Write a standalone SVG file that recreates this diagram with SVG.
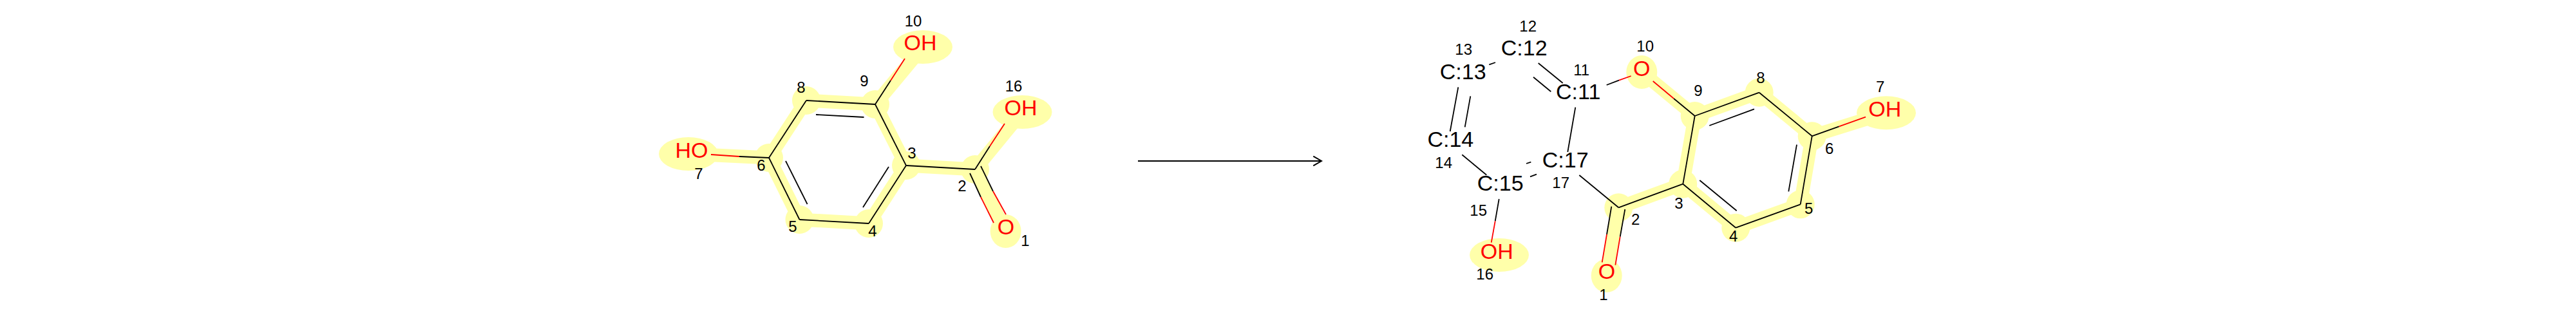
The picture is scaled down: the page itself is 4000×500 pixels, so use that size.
<svg xmlns="http://www.w3.org/2000/svg" width="4000" height="500" viewBox="0 0 4000 500">
<style>
text{font-family:"Liberation Sans",Arial,sans-serif;text-anchor:middle}
.a{font-size:34px;fill:#000}
.r{font-size:34px;fill:#f00}
.i{font-size:24px;fill:#000}
.hl{fill:#ffffaa;stroke:none}
#bond-highlights line{stroke:#ffffaa;stroke-width:21;fill:none}
#connectors line{stroke:#000;stroke-width:1.8;fill:none}
#connectors line.o{stroke:#f00}
#reaction-arrow path{stroke:#000;stroke-width:2;fill:none}
</style>
<rect width="4000" height="500" fill="#fff"/>
<g id="bond-highlights">
<line x1="1514" y1="263" x2="1407" y2="257"/><line x1="1407" y1="257" x2="1349" y2="347"/><line x1="1349" y1="347" x2="1241.5" y2="341"/><line x1="1241.5" y1="341" x2="1194" y2="245"/><line x1="1194" y1="245" x2="1252" y2="156"/><line x1="1252" y1="156" x2="1359" y2="162"/><line x1="1359" y1="162" x2="1407" y2="257"/>
<line x1="1359" y1="162" x2="1433" y2="73"/><line x1="1194" y1="245" x2="1069" y2="239"/><line x1="1514" y1="263" x2="1587" y2="174"/><line x1="1514" y1="263" x2="1561" y2="359"/>
<line x1="2513.3" y1="322.3" x2="2613.3" y2="285.7"/><line x1="2613.3" y1="285.7" x2="2631.7" y2="180"/><line x1="2631.7" y1="180" x2="2731.7" y2="143.7"/><line x1="2731.7" y1="143.7" x2="2813.7" y2="211.3"/><line x1="2813.7" y1="211.3" x2="2795.7" y2="317.3"/><line x1="2795.7" y1="317.3" x2="2695.3" y2="353.7"/><line x1="2695.3" y1="353.7" x2="2613.3" y2="285.7"/>
<line x1="2631.7" y1="180" x2="2549.3" y2="112"/><line x1="2813.7" y1="211.3" x2="2929" y2="175.3"/><line x1="2513.3" y1="322.3" x2="2494.7" y2="428"/>
</g>
<g id="reactant">
<g id="r1"><ellipse class="hl" cx="1561.6" cy="359" rx="24" ry="26"/><text class="r" x="1562" y="364">O</text><text class="i" x="1592" y="381.6">1</text></g>
<g id="r2"><circle class="hl" cx="1514" cy="263" r="22"/><text class="i" x="1494" y="296.6">2</text></g>
<g id="r3"><circle class="hl" cx="1407" cy="257" r="22"/><text class="i" x="1416" y="245.6">3</text></g>
<g id="r4"><circle class="hl" cx="1349" cy="347" r="22"/><text class="i" x="1355" y="366.6">4</text></g>
<g id="r5"><circle class="hl" cx="1241.5" cy="341" r="22"/><text class="i" x="1231" y="359.6">5</text></g>
<g id="r6"><circle class="hl" cx="1194" cy="245" r="22"/><text class="i" x="1182" y="264.6">6</text></g>
<g id="r7"><ellipse class="hl" cx="1069" cy="239" rx="46" ry="26"/><text class="r" x="1074" y="245">HO</text><text class="i" x="1085" y="277.6">7</text></g>
<g id="r8"><circle class="hl" cx="1252" cy="156" r="22"/><text class="i" x="1244" y="143.6">8</text></g>
<g id="r9"><circle class="hl" cx="1359" cy="162" r="22"/><text class="i" x="1342" y="133.6">9</text></g>
<g id="r10"><ellipse class="hl" cx="1433" cy="73" rx="46" ry="26"/><text class="r" x="1429" y="78">OH</text><text class="i" x="1418" y="40.6">10</text></g>
<g id="r16"><ellipse class="hl" cx="1587.5" cy="174" rx="46" ry="26"/><text class="r" x="1585" y="179">OH</text><text class="i" x="1574" y="141.6">16</text></g>
</g>
<g id="product">
<g id="p1"><ellipse class="hl" cx="2494.7" cy="428" rx="24" ry="26"/><text class="r" x="2495" y="432.8">O</text><text class="i" x="2490" y="466.3">1</text></g>
<g id="p2"><circle class="hl" cx="2513.3" cy="322.3" r="22"/><text class="i" x="2539.7" y="348.6">2</text></g>
<g id="p3"><circle class="hl" cx="2613.3" cy="285.7" r="22"/><text class="i" x="2607" y="324.3">3</text></g>
<g id="p4"><circle class="hl" cx="2695.3" cy="353.7" r="22"/><text class="i" x="2691.7" y="375.3">4</text></g>
<g id="p5"><circle class="hl" cx="2795.7" cy="317.3" r="22"/><text class="i" x="2808.7" y="331.9">5</text></g>
<g id="p6"><circle class="hl" cx="2813.7" cy="211.3" r="22"/><text class="i" x="2840.7" y="238.6">6</text></g>
<g id="p7"><ellipse class="hl" cx="2929" cy="175.3" rx="46" ry="26"/><text class="r" x="2926.7" y="181.2">OH</text><text class="i" x="2919.7" y="142.9">7</text></g>
<g id="p8"><circle class="hl" cx="2731.7" cy="143.7" r="22"/><text class="i" x="2734" y="128.9">8</text></g>
<g id="p9"><circle class="hl" cx="2631.7" cy="180" r="22"/><text class="i" x="2637" y="149.3">9</text></g>
<g id="p10"><ellipse class="hl" cx="2549.3" cy="112" rx="24" ry="26"/><text class="r" x="2549.3" y="118.2">O</text><text class="i" x="2554.7" y="80.3">10</text></g>
<g id="p11"><text class="a" x="2450.7" y="153.9">C:11</text><text class="i" x="2455.7" y="117.3">11</text></g>
<g id="p12"><text class="a" x="2366.7" y="86.2">C:12</text><text class="i" x="2372.7" y="48.6">12</text></g>
<g id="p13"><text class="a" x="2271.7" y="122.9">C:13</text><text class="i" x="2272.7" y="85.3">13</text></g>
<g id="p14"><text class="a" x="2252.3" y="227.9">C:14</text><text class="i" x="2241.7" y="261.3">14</text></g>
<g id="p15"><text class="a" x="2329.7" y="295.5">C:15</text><text class="i" x="2295.7" y="335.3">15</text></g>
<g id="p16"><ellipse class="hl" cx="2328" cy="396" rx="46" ry="26"/><text class="r" x="2324.3" y="402.2">OH</text><text class="i" x="2305.7" y="434.3">16</text></g>
<g id="p17"><text class="a" x="2430.7" y="259.9">C:17</text><text class="i" x="2423.7" y="292.3">17</text></g>
</g>
<g id="connectors">
<line x1="1514" y1="263" x2="1407" y2="257"/><line x1="1407" y1="257" x2="1349" y2="347"/><line x1="1349" y1="347" x2="1241.5" y2="341"/><line x1="1241.5" y1="341" x2="1194" y2="245"/><line x1="1194" y1="245" x2="1252" y2="156"/><line x1="1252" y1="156" x2="1359" y2="162"/><line x1="1359" y1="162" x2="1407" y2="257"/>
<line x1="1267" y1="178" x2="1341.5" y2="182"/><line x1="1380" y1="259" x2="1340" y2="322"/><line x1="1253.6" y1="317" x2="1220" y2="250"/>
<line x1="1359" y1="162" x2="1383" y2="125"/><line class="o" x1="1383" y1="125" x2="1405" y2="91"/>
<line x1="1194" y1="245" x2="1148" y2="243"/><line class="o" x1="1148" y1="243" x2="1104" y2="240"/>
<line x1="1514" y1="263" x2="1537" y2="227"/><line class="o" x1="1537" y1="227" x2="1560" y2="192"/>
<line x1="1506" y1="269" x2="1523" y2="306"/><line class="o" x1="1523" y1="306" x2="1543" y2="346"/>
<line x1="1523" y1="258" x2="1542" y2="297"/><line class="o" x1="1542" y1="297" x2="1562" y2="333"/>
<line x1="2513.3" y1="322.3" x2="2613.3" y2="285.7"/><line x1="2613.3" y1="285.7" x2="2631.7" y2="180"/><line x1="2631.7" y1="180" x2="2731.7" y2="143.7"/><line x1="2731.7" y1="143.7" x2="2813.7" y2="211.3"/><line x1="2813.7" y1="211.3" x2="2795.7" y2="317.3"/><line x1="2795.7" y1="317.3" x2="2695.3" y2="353.7"/><line x1="2695.3" y1="353.7" x2="2613.3" y2="285.7"/>
<line x1="2639.3" y1="280" x2="2696.7" y2="327.3"/><line x1="2654.3" y1="195" x2="2724" y2="169.3"/><line x1="2777.3" y1="297.3" x2="2790" y2="224.7"/>
<line x1="2631.7" y1="180" x2="2599" y2="153"/><line class="o" x1="2599" y1="153" x2="2566.7" y2="126"/>
<line x1="2813.7" y1="211.3" x2="2855.7" y2="196.3"/><line class="o" x1="2855.7" y1="196.3" x2="2897" y2="181.7"/>
<line x1="2523.3" y1="325" x2="2515.7" y2="367.7"/><line class="o" x1="2515.7" y1="367.7" x2="2508.3" y2="411.7"/>
<line x1="2502.3" y1="320.7" x2="2495" y2="364"/><line class="o" x1="2495" y1="364" x2="2487.7" y2="407.3"/>
<line x1="2513.3" y1="322.3" x2="2452.3" y2="272"/>
<line x1="2434.3" y1="236" x2="2446.3" y2="166.7"/>
<line x1="2494.7" y1="132" x2="2514" y2="124.7"/><line class="o" x1="2514" y1="124.7" x2="2532.7" y2="118"/>
<line x1="2426.7" y1="129" x2="2388.7" y2="98"/><line x1="2408.3" y1="142.3" x2="2381" y2="119.7"/>
<line x1="2322" y1="97" x2="2312.3" y2="100.3"/>
<line x1="2264.3" y1="135.3" x2="2251.7" y2="204"/><line x1="2283.3" y1="149.3" x2="2274.7" y2="197.3"/>
<line x1="2270.3" y1="240.3" x2="2308.3" y2="271.7"/>
<line x1="2386" y1="270.7" x2="2376" y2="274.3"/><line x1="2377.3" y1="251.7" x2="2370" y2="254"/>
<line x1="2327.7" y1="309" x2="2321.7" y2="343.3"/><line class="o" x1="2321.7" y1="343.3" x2="2315.7" y2="376.7"/>
</g>
<g id="reaction-arrow"><path d="M1767 250H2052M2039.3 242.7L2052 250L2039.3 257.3"/></g>
</svg>
